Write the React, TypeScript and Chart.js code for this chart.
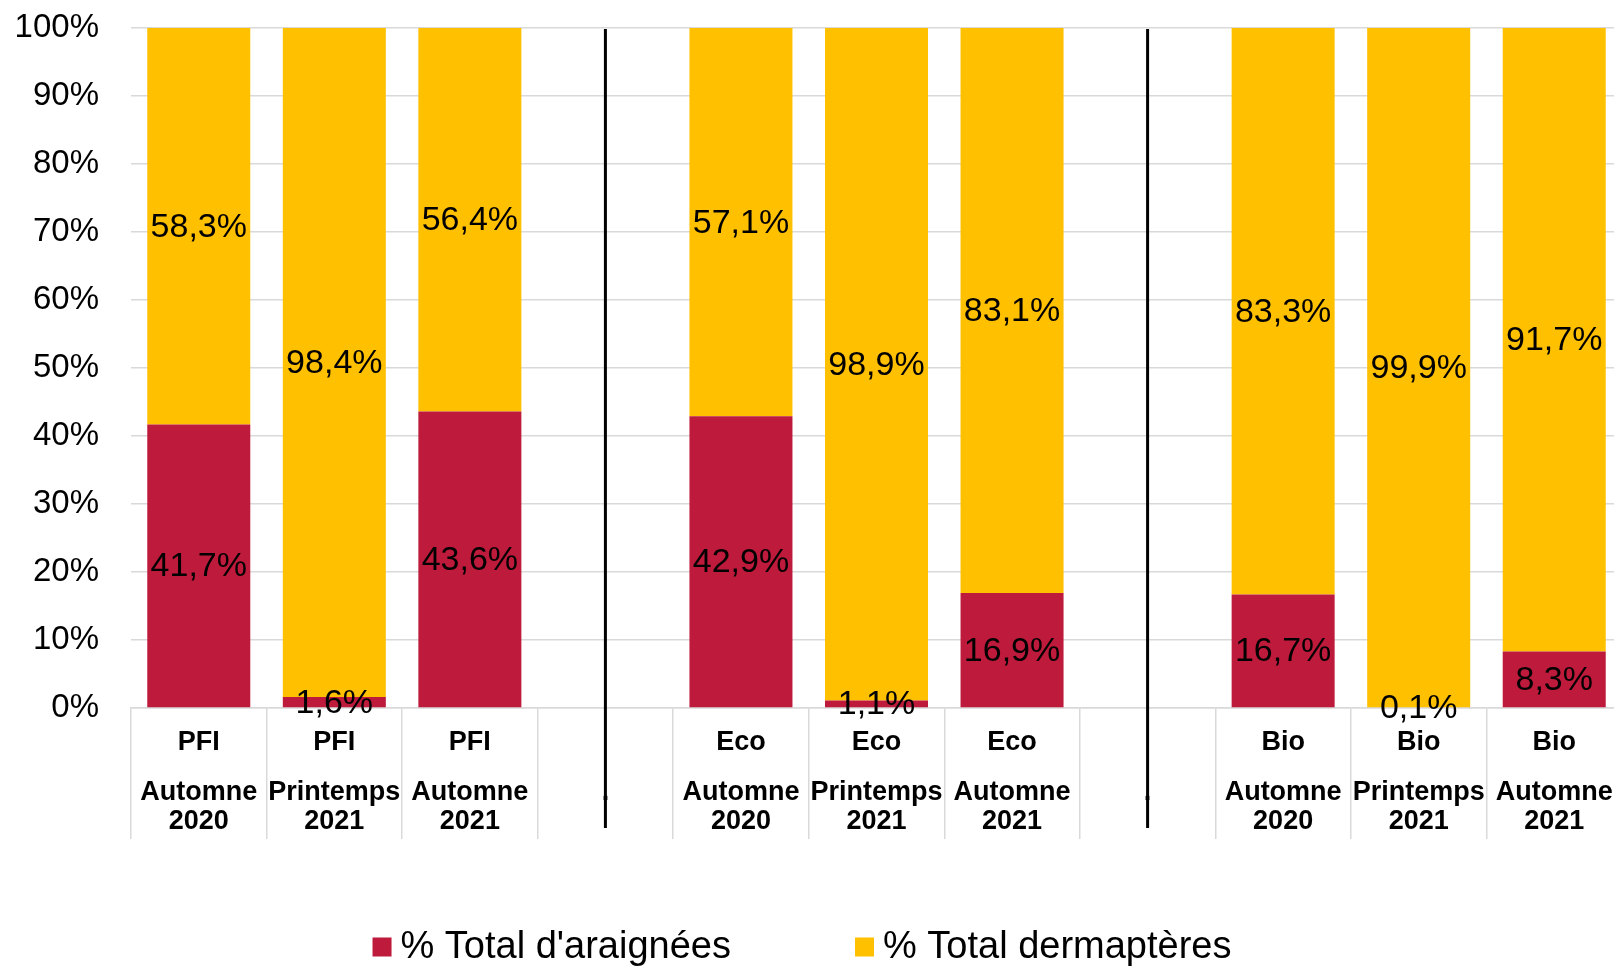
import React, { useEffect, useRef } from "react";
import { Chart, registerables } from "chart.js";

Chart.register(...registerables);

// ---- Data ----
const groups = ["PFI", "PFI", "PFI", "", "Eco", "Eco", "Eco", "", "Bio", "Bio", "Bio"];
const seasons = ["Automne", "Printemps", "Automne", ".", "Automne", "Printemps", "Automne", ".", "Automne", "Printemps", "Automne"];
const years = ["2020", "2021", "2021", "", "2020", "2021", "2021", "", "2020", "2021", "2021"];
const araignees: (number | null)[] = [41.7, 1.6, 43.6, null, 42.9, 1.1, 16.9, null, 16.7, 0.1, 8.3];
const dermapteres: (number | null)[] = [58.3, 98.4, 56.4, null, 57.1, 98.9, 83.1, null, 83.3, 99.9, 91.7];
const seriesNames = ["% Total d'araignées", "% Total dermaptères"];
const seriesColors = ["#BE1A3B", "#FFC000"];
const separatorIndices = [3, 7];
const yMin = 0;
const yMax = 100;
const yStep = 10;

const FAMILY = "'Liberation Sans', Arial, sans-serif";

const fmt = (v: number) => v.toFixed(1).replace(".", ",") + "%";

const drawPlugin = {
  id: "customDraw",
  afterDatasetsDraw(chart: any) {
    const ctx = chart.ctx as CanvasRenderingContext2D;
    const xs = chart.scales.x;
    const ys = chart.scales.y;
    const area = chart.chartArea;
    ctx.save();

    // separator lines
    ctx.strokeStyle = "#000";
    ctx.lineWidth = 3;
    separatorIndices.forEach((idx) => {
      const x = xs.getPixelForValue(idx);
      ctx.beginPath();
      ctx.moveTo(x, ys.getPixelForValue(yMax) + 1);
      ctx.lineTo(x, area.bottom + 120);
      ctx.stroke();
    });

    // data labels
    ctx.font = `34px ${FAMILY}`;
    ctx.fillStyle = "#000";
    ctx.textAlign = "center";
    ctx.textBaseline = "middle";
    chart.data.datasets.forEach((ds: any, di: number) => {
      const meta = chart.getDatasetMeta(di);
      meta.data.forEach((el: any, i: number) => {
        const v = ds.data[i];
        if (v == null) return;
        const p = el.getProps(["x", "y", "base"], true);
        ctx.fillText(fmt(v), p.x, (p.y + p.base) / 2 + 1);
      });
    });

    // category labels
    ctx.font = `bold 27px ${FAMILY}`;
    groups.forEach((g, i) => {
      const x = xs.getPixelForValue(i);
      if (g) ctx.fillText(g, x, area.bottom + 35);
      if (seasons[i]) ctx.fillText(seasons[i], x, area.bottom + 85);
      if (years[i]) ctx.fillText(years[i], x, area.bottom + 114);
    });

    // legend
    ctx.font = `38px ${FAMILY}`;
    ctx.textAlign = "left";
    const box = 19;
    const gapBoxText = 9;
    const gapItems = 124;
    const widths = seriesNames.map((t) => ctx.measureText(t).width);
    const total = widths.reduce((s, w) => s + box + gapBoxText + w, 0) + gapItems * (seriesNames.length - 1);
    let lx = chart.width / 2 - 9 - total / 2;
    const ly = 947;
    seriesNames.forEach((t, i) => {
      ctx.fillStyle = seriesColors[i];
      ctx.fillRect(lx, ly - box / 2, box, box);
      ctx.fillStyle = "#000";
      ctx.fillText(t, lx + box + gapBoxText, ly + 1);
      lx += box + gapBoxText + widths[i] + gapItems;
    });

    ctx.restore();
  },
};

export default function App() {
  const canvasRef = useRef<HTMLCanvasElement | null>(null);

  useEffect(() => {
    if (!canvasRef.current) return;
    const labels = groups.map((g, i) => `${g} ${seasons[i]} ${years[i]} #${i}`);
    const chart = new Chart(canvasRef.current, {
      type: "bar",
      data: {
        labels,
        datasets: [
          {
            label: seriesNames[0],
            data: araignees,
            backgroundColor: seriesColors[0],
            borderWidth: 0,
            barPercentage: 0.76,
            categoryPercentage: 1.0,
          },
          {
            label: seriesNames[1],
            data: dermapteres,
            backgroundColor: seriesColors[1],
            borderWidth: 0,
            barPercentage: 0.76,
            categoryPercentage: 1.0,
          },
        ],
      },
      options: {
        responsive: true,
        maintainAspectRatio: false,
        animation: false,
        events: [],
        layout: { padding: { top: 28, bottom: 128, left: 0, right: 0 } },
        plugins: {
          legend: { display: false },
          tooltip: { enabled: false },
          title: { display: false },
        },
        scales: {
          x: {
            stacked: true,
            offset: true,
            afterFit: (scale: any) => {
              scale.height = 131;
            },
            grid: {
              offset: true,
              drawOnChartArea: false,
              drawTicks: true,
              tickLength: 131,
              color: "#D9D9D9",
              lineWidth: 1.5,
            },
            border: { display: true, color: "#D9D9D9", width: 1.5 },
            ticks: { display: false },
          },
          y: {
            stacked: true,
            min: yMin,
            max: yMax,
            afterFit: (scale: any) => {
              scale.width = 131;
            },
            grid: {
              color: "#D9D9D9",
              lineWidth: 1.5,
              drawTicks: true,
              tickLength: 29,
              tickColor: "rgba(0,0,0,0)",
            },
            border: { display: false },
            ticks: {
              stepSize: yStep,
              padding: 3,
              color: "#000",
              font: { family: FAMILY, size: 33 },
              callback: (v: any) => `${v}%`,
            },
          },
        },
      },
      plugins: [drawPlugin],
    });
    return () => chart.destroy();
  }, []);

  return (
    <div style={{ position: "fixed", left: 0, top: 0, width: "100vw", height: "100vh", overflow: "hidden", background: "#fff" }}>
      <div style={{ position: "absolute", left: 0, top: 0, width: "1622px", height: "967px" }}>
        <canvas ref={canvasRef} />
      </div>
    </div>
  );
}
